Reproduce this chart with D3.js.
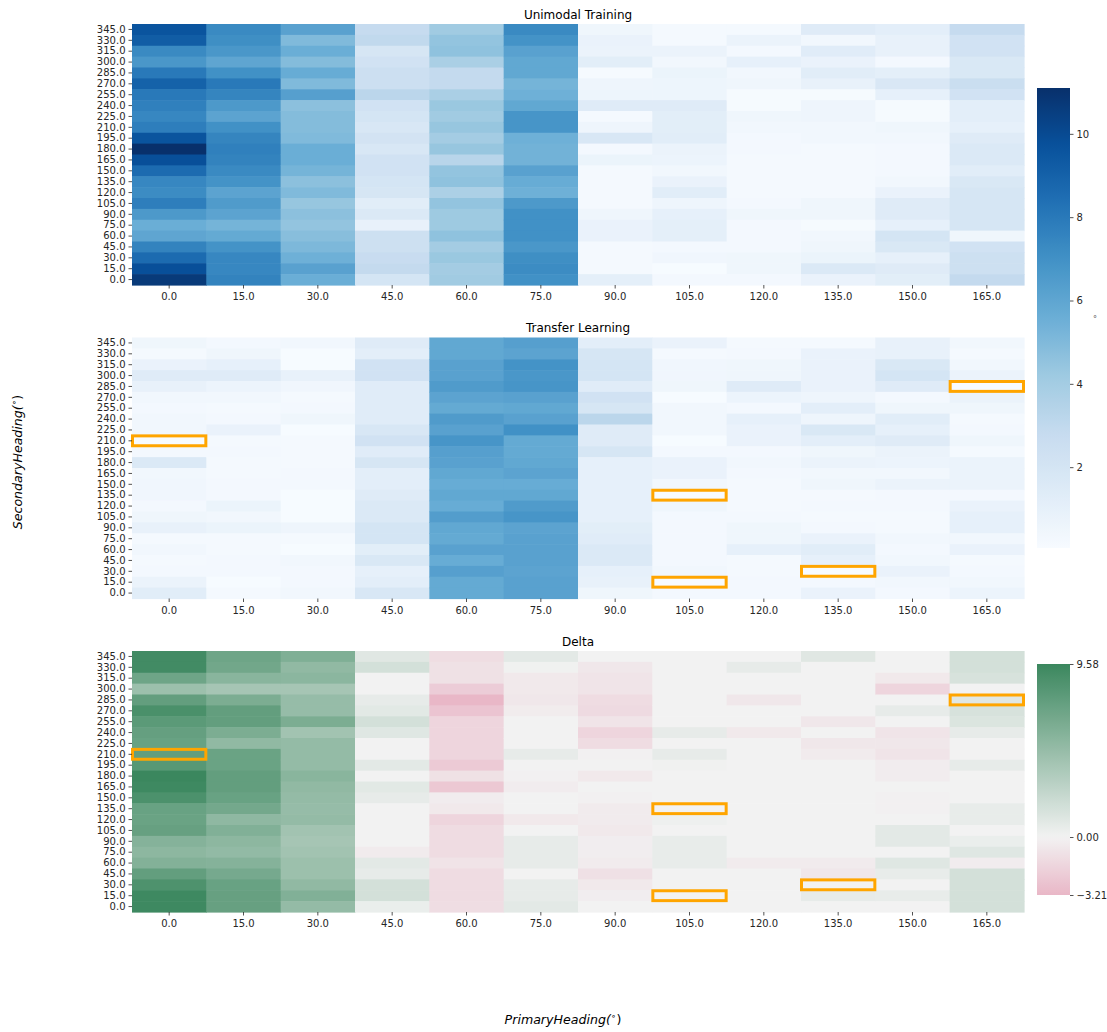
<!DOCTYPE html>
<html>
<head>
<meta charset="utf-8">
<script src="https://cdn.jsdelivr.net/npm/d3@7"></script>
<style>
  html, body { margin: 0; padding: 0; background: #fff; }
  text { font-family: "DejaVu Sans", sans-serif; }
</style>
</head>
<body>
<script>
// ---------- DATA ----------
const primaryHeadings = [0, 15, 30, 45, 60, 75, 90, 105, 120, 135, 150, 165];
// secondary headings, listed top-to-bottom as drawn
const secondaryHeadings = [345, 330, 315, 300, 285, 270, 255, 240, 225, 210, 195, 180,
                           165, 150, 135, 120, 105, 90, 75, 60, 45, 30, 15, 0];

// each inner array: one primary heading column, values in secondaryHeadings order
const unimodal = [
  [9.6,9.2,7.3,6.7,8.0,9.0,8.0,7.7,7.4,7.8,9.6,11.1,9.8,8.6,7.4,7.2,7.8,6.6,5.6,6.0,7.6,8.6,9.8,10.7],
  [7.3,7.1,6.7,6.0,7.0,8.0,7.5,6.6,6.1,7.0,7.5,7.7,7.6,7.3,6.9,6.1,6.5,6.1,5.3,5.8,6.9,7.4,7.4,7.6],
  [6.2,5.0,5.6,4.9,5.7,5.0,6.3,4.7,4.9,4.9,5.0,5.6,5.6,5.3,4.7,5.0,4.4,4.7,4.5,4.8,5.1,5.5,6.2,5.6],
  [2.8,3.0,1.9,2.2,2.5,2.5,3.2,2.2,2.0,1.8,2.1,1.8,2.2,2.2,2.0,1.9,1.3,1.6,0.9,2.4,2.4,2.7,2.9,2.0],
  [4.1,4.5,4.6,3.8,2.9,2.9,3.8,4.3,4.1,4.4,4.0,4.4,3.3,4.5,4.6,3.7,4.5,4.2,4.2,4.6,4.0,4.3,4.0,4.1],
  [7.3,6.9,6.2,5.9,5.9,5.3,5.5,5.9,6.8,6.8,5.5,5.4,5.4,6.2,5.7,5.5,6.6,7.0,7.0,7.0,6.7,7.1,7.2,7.0],
  [0.5,0.8,0.75,1.2,0.15,0.55,0.6,1.4,0.2,0.55,1.8,0.3,0.7,0.2,0.2,0.2,0.2,0.5,0.8,0.8,0.25,0.25,0.25,1.1],
  [0.25,0.2,0.75,0.4,0.7,0.6,0.6,1.4,1.2,1.2,1.3,0.75,0.65,0.4,0.8,1.3,0.55,1.0,1.1,1.1,0.3,0.45,0.1,0.3],
  [0.25,0.75,0.3,1.0,0.4,0.5,0.15,0.15,0.5,0.4,0.3,0.3,0.2,0.2,0.2,0.2,0.3,0.5,0.3,0.3,0.3,0.5,0.5,0.3],
  [1.4,0.4,1.35,0.8,1.3,0.9,0.15,0.55,0.55,0.4,0.4,0.2,0.2,0.25,0.25,0.25,0.5,0.5,0.15,0.4,0.5,0.7,1.6,0.8],
  [1.15,0.9,0.9,0.3,1.1,1.75,1.0,0.15,0.15,0.5,0.4,0.3,0.3,0.3,0.4,0.8,1.4,1.4,1.0,2.0,1.7,1.0,1.4,1.2],
  [2.8,2.2,2.2,1.7,1.7,2.6,2.2,1.15,1.15,1.0,1.4,1.6,1.6,1.3,1.7,1.9,1.9,1.9,1.9,0.5,2.2,2.4,2.4,2.9]
];

const transfer = [
  [0.5,0.2,0.8,1.4,0.9,0.4,0.3,0.4,0.4,0.06,0.3,1.6,0.4,0.45,0.45,0.3,0.5,0.9,0.2,0.4,0.2,0.3,0.75,1.3],
  [0.3,0.5,1.0,1.4,0.65,0.4,0.2,0.3,0.8,0.2,0.3,0.2,0.2,0.3,0.3,0.7,0.4,0.7,0.2,0.2,0.3,0.3,0.1,0.2],
  [0.4,0.1,0.1,0.9,0.45,0.2,0.3,0.5,0.1,0.2,0.2,0.2,0.3,0.3,0.1,0.1,0.1,0.55,0.2,0.1,0.4,0.3,0.3,0.4],
  [1.4,1.15,2.2,2.2,1.35,1.35,1.35,1.35,1.8,2.2,1.35,1.9,1.15,1.15,1.4,1.6,1.6,2.0,2.0,1.2,1.7,1.0,1.15,1.8],
  [5.9,5.9,6.2,6.2,6.5,6.1,5.8,6.5,6.2,6.8,6.3,6.2,5.9,5.7,5.9,5.7,6.4,5.9,5.8,6.2,5.7,6.3,5.8,5.8],
  [6.3,6.1,6.9,6.7,6.8,6.2,5.9,6.2,7.0,5.8,5.8,5.9,6.1,5.7,5.9,6.5,6.8,6.1,6.2,6.2,6.2,6.1,6.2,6.2],
  [1.15,1.9,2.0,2.0,1.35,2.2,1.9,3.2,1.4,1.4,1.9,1.0,1.0,1.0,1.0,1.0,1.0,1.2,1.35,1.6,1.6,1.0,0.9,0.5],
  [0.8,0.2,0.45,0.45,0.5,0.1,0.4,0.4,0.4,0.1,0.3,0.8,0.8,0.4,0.06,0.5,0.3,0.3,0.3,0.3,0.3,0.4,0.06,0.3],
  [0.2,0.3,0.5,0.5,1.4,0.65,0.3,1.0,0.8,0.8,0.3,0.4,0.3,0.2,0.2,0.2,0.3,0.5,0.5,1.0,0.2,0.2,0.3,0.3],
  [0.2,0.8,0.8,0.8,0.8,0.55,1.15,0.55,1.7,1.15,0.5,0.75,0.4,0.5,0.2,0.3,0.2,0.3,0.8,1.3,1.0,0.06,0.3,0.8],
  [0.9,0.9,1.7,2.0,1.4,0.3,0.5,1.3,1.0,1.4,0.75,0.65,0.4,0.75,0.3,0.3,0.2,0.2,0.4,0.3,0.4,0.8,0.4,0.3],
  [0.4,0.2,0.4,0.75,0.06,0.75,0.5,0.2,0.3,0.5,0.2,0.75,0.75,0.75,0.3,0.8,1.0,1.0,0.4,0.8,0.2,0.3,0.4,0.65]
];

const delta = [
  [9.2,9.2,6.9,4.5,7.5,8.8,7.9,7.4,7.2,7.5,8.1,9.58,9.4,8.7,7.2,7.1,7.3,5.7,5.3,5.8,7.5,8.6,9.4,9.4],
  [6.9,6.7,5.5,4.0,6.2,7.5,7.5,6.2,5.1,7.1,7.1,7.5,7.5,7.2,6.6,5.2,5.9,5.3,5.0,5.7,6.5,7.2,7.3,7.3],
  [6.0,5.1,5.4,4.0,4.8,4.8,6.2,4.2,4.9,4.9,4.9,5.5,5.1,4.9,4.8,4.9,4.2,4.0,4.2,4.5,4.5,5.1,5.9,4.9],
  [0.95,1.6,0,0,0.6,0.85,1.6,1.0,0,0,0.8,0,0.85,0.6,0,0,0,0,-0.4,0.8,0.6,1.6,1.6,0.4],
  [-1.16,-0.94,-0.94,-2.05,-3.21,-2.5,-1.6,-1.6,-1.6,-1.6,-2.2,-0.94,-2.3,-0.33,-0.5,-1.6,-1.2,-1.2,-1.2,-0.8,-1.2,-1.2,-1.2,-1.15],
  [0.8,0.1,-0.5,-0.5,-0.6,-0.35,0,0,0,0.6,0,-0.1,-0.3,0,0,-0.5,0,0.6,0.6,0.6,0,0.6,0.6,0.8],
  [0,-0.6,-0.75,-0.75,-1.2,-1.3,-0.75,-1.6,-1.2,-0.1,0,-0.5,0,-0.1,-0.4,-0.4,-0.5,-0.25,-0.25,-0.4,-1.0,-0.5,-0.25,0],
  [0,0,0,0,0,0,0,0.6,0,0.6,0.1,0,0,0,0,0.2,0,0.5,0.5,0.5,0,0,0,0],
  [0,0.6,0,0,-0.6,0,0,-0.5,0,0,0,0,0,0,0,0,0,0,0,-0.4,0,0,0,0],
  [0.95,0,0,0,0,0,-0.6,0,-0.6,-0.4,0,0,0,0,0,0,0,0,0,-0.4,-0.6,0,0.6,0],
  [0,0,-0.5,-1.6,0,0.6,0,-0.75,-0.6,-0.75,-0.3,-0.3,0,-0.1,-0.1,0,0.8,0.8,0,1.0,0.5,0,0.5,0],
  [1.6,1.6,1.4,0,0.95,1.4,1.2,0.6,0,0,0.6,0,0,0,0.5,0.5,0,0.4,1.0,-0.3,1.6,1.6,1.6,1.6]
];

// highlighted cells [primary, secondary]
const highlights = [[0, 210], [105, 135], [105, 15], [135, 30], [165, 285]];

const blueTicks = [2, 4, 6, 8, 10];
const deltaTicks = [-3.21, 0.00, 9.58];
const blueDomain = [0.06, 11.1];
const deltaDomain = [-3.21, 0, 9.58];

const titles = ["Unimodal Training", "Transfer Learning", "Delta"];

// ---------- SCALES / COLORS ----------
const bluesStops = ["#f7fbff","#deebf7","#c6dbef","#9ecae1","#6baed6","#4292c6","#2171b5","#08519c","#08306b"];
const blueColor = d3.scaleLinear()
  .domain(d3.range(9).map(i => blueDomain[0] + (blueDomain[1] - blueDomain[0]) * i / 8))
  .range(bluesStops).clamp(true);
const deltaColor = d3.scaleLinear()
  .domain(deltaDomain)
  .range(["#e9b7c7", "#f2f2f2", "#3b875e"]).clamp(true);

// ---------- LAYOUT ----------
const W = 1107, H = 1032;
const left = 132, plotW = 892, plotH = 261;
const panelTops = [24, 337.5, 651];

const svg = d3.select("body").append("svg")
  .attr("width", W).attr("height", H)
  .attr("viewBox", `0 0 ${W} ${H}`);
svg.append("rect").attr("width", W).attr("height", H).attr("fill", "#fff");

const x = d3.scaleBand().domain(primaryHeadings).range([0, plotW]);
const y = d3.scaleBand().domain(secondaryHeadings).range([0, plotH]);

function drawPanel(idx, data, color, boxes) {
  const g = svg.append("g").attr("transform", `translate(${left},${panelTops[idx]})`);
  const cells = [];
  data.forEach((col, i) => col.forEach((v, j) =>
    cells.push({p: primaryHeadings[i], s: secondaryHeadings[j], v})));
  g.selectAll("rect.cell").data(cells).join("rect")
    .attr("class", "cell")
    .attr("x", d => x(d.p))
    .attr("y", d => y(d.s))
    .attr("width", x.bandwidth() + 0.6)
    .attr("height", y.bandwidth() + 0.6)
    .attr("fill", d => color(d.v));

  if (boxes) {
    g.selectAll("rect.hl").data(highlights).join("rect")
      .attr("class", "hl")
      .attr("x", d => x(d[0]) + 0.5)
      .attr("y", d => y(d[1]) + 0.5)
      .attr("width", x.bandwidth() - 1)
      .attr("height", y.bandwidth() - 1)
      .attr("fill", "none")
      .attr("stroke", "#ffa500")
      .attr("stroke-width", 3);
  }

  const ya = g.append("g").call(d3.axisLeft(y).tickSize(3.5).tickPadding(3).tickFormat(d => d.toFixed(1)));
  ya.select(".domain").remove();
  ya.selectAll("text").attr("font-size", 10).attr("fill", "#262626").style("font-family", "DejaVu Sans");
  ya.selectAll("line").attr("stroke", "#262626").attr("stroke-width", 0.8);

  const xa = g.append("g").attr("transform", `translate(0,${plotH})`)
    .call(d3.axisBottom(x).tickSize(3.5).tickPadding(4.5).tickFormat(d => d.toFixed(1)));
  xa.select(".domain").remove();
  xa.selectAll("text").attr("font-size", 10).attr("fill", "#262626").style("font-family", "DejaVu Sans");
  xa.selectAll("line").attr("stroke", "#262626").attr("stroke-width", 0.8);

  svg.append("text")
    .attr("x", left + plotW / 2).attr("y", panelTops[idx] - 5.5)
    .attr("text-anchor", "middle").attr("font-size", 12).attr("fill", "#000")
    .text(titles[idx]);
}

drawPanel(0, unimodal, blueColor, false);
drawPanel(1, transfer, blueColor, true);
drawPanel(2, delta, deltaColor, true);

// ---------- COLORBARS ----------
const defs = svg.append("defs");
function colorbar(id, color, domain, y0, y1, ticks, fmt) {
  const grad = defs.append("linearGradient").attr("id", id)
    .attr("x1", 0).attr("y1", 1).attr("x2", 0).attr("y2", 0);
  const lo = domain[0], hi = domain[domain.length - 1];
  d3.range(0, 1.0001, 0.02).forEach(t => {
    grad.append("stop").attr("offset", t).attr("stop-color", color(lo + (hi - lo) * t));
  });
  const cx = 1037, cw = 33;
  svg.append("rect").attr("x", cx).attr("y", y0).attr("width", cw).attr("height", y1 - y0)
    .attr("fill", `url(#${id})`);
  const s = d3.scaleLinear().domain([lo, hi]).range([y1, y0]);
  const ax = svg.append("g").attr("transform", `translate(${cx + cw},0)`)
    .call(d3.axisRight(s).tickValues(ticks).tickSize(3.5).tickPadding(3).tickFormat(fmt));
  ax.select(".domain").remove();
  ax.selectAll("text").attr("font-size", 10).attr("fill", "#262626").style("font-family", "DejaVu Sans");
  ax.selectAll("line").attr("stroke", "#262626").attr("stroke-width", 0.8);
}
colorbar("gBlue", blueColor, blueDomain, 88, 548, blueTicks, d3.format("d"));
colorbar("gDelta", deltaColor, deltaDomain, 664, 895, deltaTicks, d3.format(".2f"));

svg.append("text").attr("x", 1095).attr("y", 322).attr("font-size", 8)
  .attr("fill", "#555").attr("text-anchor", "middle").text("°");

// ---------- AXIS LABELS ----------
const yl = svg.append("text")
  .attr("transform", "translate(22,462) rotate(-90)")
  .attr("text-anchor", "middle").attr("font-size", 12.6).attr("font-style", "italic").attr("fill", "#000");
yl.append("tspan").text("SecondaryHeading(");
yl.append("tspan").attr("font-size", 9).attr("font-style", "normal").attr("dy", -5).text("∘");
yl.append("tspan").attr("dy", 5).attr("font-style", "normal").text(")");

const xl = svg.append("text")
  .attr("x", 563).attr("y", 1024)
  .attr("text-anchor", "middle").attr("font-size", 12.6).attr("font-style", "italic").attr("fill", "#000");
xl.append("tspan").text("PrimaryHeading(");
xl.append("tspan").attr("font-size", 9).attr("font-style", "normal").attr("dy", -5).text("∘");
xl.append("tspan").attr("dy", 5).attr("font-style", "normal").text(")");
</script>
</body>
</html>
